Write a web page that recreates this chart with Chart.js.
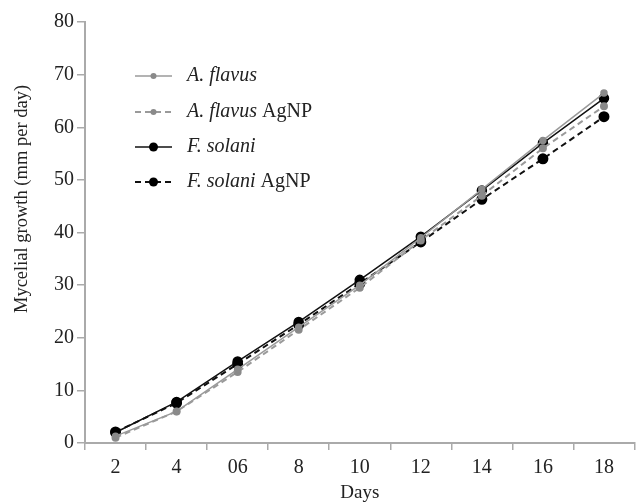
<!DOCTYPE html>
<html>
<head>
<meta charset="utf-8">
<script src="https://cdn.jsdelivr.net/npm/chart.js@4"></script>
<style>
html,body{margin:0;padding:0;background:#fff;}
#wrap{width:641px;height:504px;position:relative;}
</style>
</head>
<body>
<div id="wrap"><canvas id="c" width="641" height="504"></canvas></div>
<script>
const days = ["2", "4", "06", "8", "10", "12", "14", "16", "18"];
const aFlavus      = [1.3, 6.0, 14.0, 22.0, 30.0, 39.0, 48.2, 57.5, 66.5];
const aFlavusAgNP  = [1.0, 6.0, 13.5, 21.5, 29.5, 38.5, 47.0, 56.0, 64.0];
const fSolani      = [2.0, 7.8, 15.5, 23.0, 31.0, 39.2, 48.0, 57.0, 65.5];
const fSolaniAgNP  = [2.1, 7.6, 15.0, 22.5, 30.3, 38.2, 46.3, 54.0, 62.0];
const seriesNames  = ["A. flavus", "A. flavus", "F. solani", "F. solani"];
const seriesSuffix = ["", " AgNP", "", " AgNP"];
const yTitle = "Mycelial growth (mm per day)";
const xTitle = "Days";

const FONT = "'Liberation Serif', 'Times New Roman', serif";

const legendPlugin = {
  id: 'customLegend',
  afterDraw(chart) {
    const ctx = chart.ctx;
    const x0 = 135, x1 = 172, tx = 187;
    const rows = [76, 112, 147, 182];
    chart.data.datasets.forEach((ds, i) => {
      const y = rows[i];
      ctx.save();
      ctx.strokeStyle = ds.borderColor;
      ctx.lineWidth = ds.borderWidth;
      ctx.setLineDash(ds.borderDash || []);
      ctx.beginPath(); ctx.moveTo(x0, y); ctx.lineTo(x1, y); ctx.stroke();
      ctx.setLineDash([]);
      ctx.fillStyle = ds.pointBackgroundColor;
      ctx.beginPath(); ctx.arc((x0 + x1) / 2, y, ds.pointRadius, 0, Math.PI * 2); ctx.fill();
      ctx.fillStyle = '#222';
      ctx.textBaseline = 'middle';
      ctx.font = 'italic 20px ' + FONT;
      ctx.fillText(seriesNames[i], tx, y);
      const w = ctx.measureText(seriesNames[i]).width;
      ctx.font = '20px ' + FONT;
      ctx.fillText(seriesSuffix[i], tx + w, y);
      ctx.restore();
    });
    // y-axis title
    ctx.save();
    ctx.translate(22, 199);
    ctx.rotate(-Math.PI / 2);
    ctx.font = '18.5px ' + FONT;
    ctx.fillStyle = '#222';
    ctx.textAlign = 'center';
    ctx.textBaseline = 'middle';
    ctx.fillText(yTitle, 0, 0);
    ctx.restore();
  }
};

new Chart(document.getElementById('c'), {
  type: 'line',
  data: {
    labels: days,
    datasets: [
      { label: seriesNames[0] + seriesSuffix[0], data: aFlavus, borderColor: '#9a9a9a', borderWidth: 1.5,
        pointBackgroundColor: '#8a8a8a', pointBorderColor: '#8a8a8a', pointRadius: 3, borderDash: [] },
      { label: seriesNames[1] + seriesSuffix[1], data: aFlavusAgNP, borderColor: '#9a9a9a', borderWidth: 2,
        pointBackgroundColor: '#8a8a8a', pointBorderColor: '#8a8a8a', pointRadius: 3, borderDash: [6, 4] },
      { label: seriesNames[2] + seriesSuffix[2], data: fSolani, borderColor: '#111', borderWidth: 1.5,
        pointBackgroundColor: '#000', pointBorderColor: '#000', pointRadius: 4.5, borderDash: [] },
      { label: seriesNames[3] + seriesSuffix[3], data: fSolaniAgNP, borderColor: '#111', borderWidth: 2,
        pointBackgroundColor: '#000', pointBorderColor: '#000', pointRadius: 4.5, borderDash: [6, 4] }
    ]
  },
  options: {
    responsive: false,
    animation: false,
    layout: { padding: { top: 22, right: 0, left: 0, bottom: 0 } },
    plugins: { legend: { display: false }, tooltip: { enabled: false } },
    elements: { line: { tension: 0 } },
    scales: {
      x: {
        type: 'category',
        offset: true,
        grid: { drawOnChartArea: false, offset: true, tickLength: 7, color: '#aaa', lineWidth: 1.5 },
        border: { color: '#aaa', width: 2 },
        ticks: { color: '#222', font: { family: FONT, size: 20 }, padding: 6, maxRotation: 0 },
        title: { display: true, text: xTitle, color: '#222', font: { family: FONT, size: 19 }, padding: { top: 2, bottom: 0 } },
        afterFit(s) { s.height = 61; }
      },
      y: {
        min: 0, max: 80,
        ticks: { stepSize: 10, color: '#222', font: { family: FONT, size: 20 }, padding: 3 },
        grid: { drawOnChartArea: false, tickLength: 8, color: '#aaa', lineWidth: 1.5 },
        border: { color: '#aaa', width: 2 },
        afterFit(s) { s.width = 85; }
      }
    }
  },
  plugins: [legendPlugin]
});
</script>
</body>
</html>
